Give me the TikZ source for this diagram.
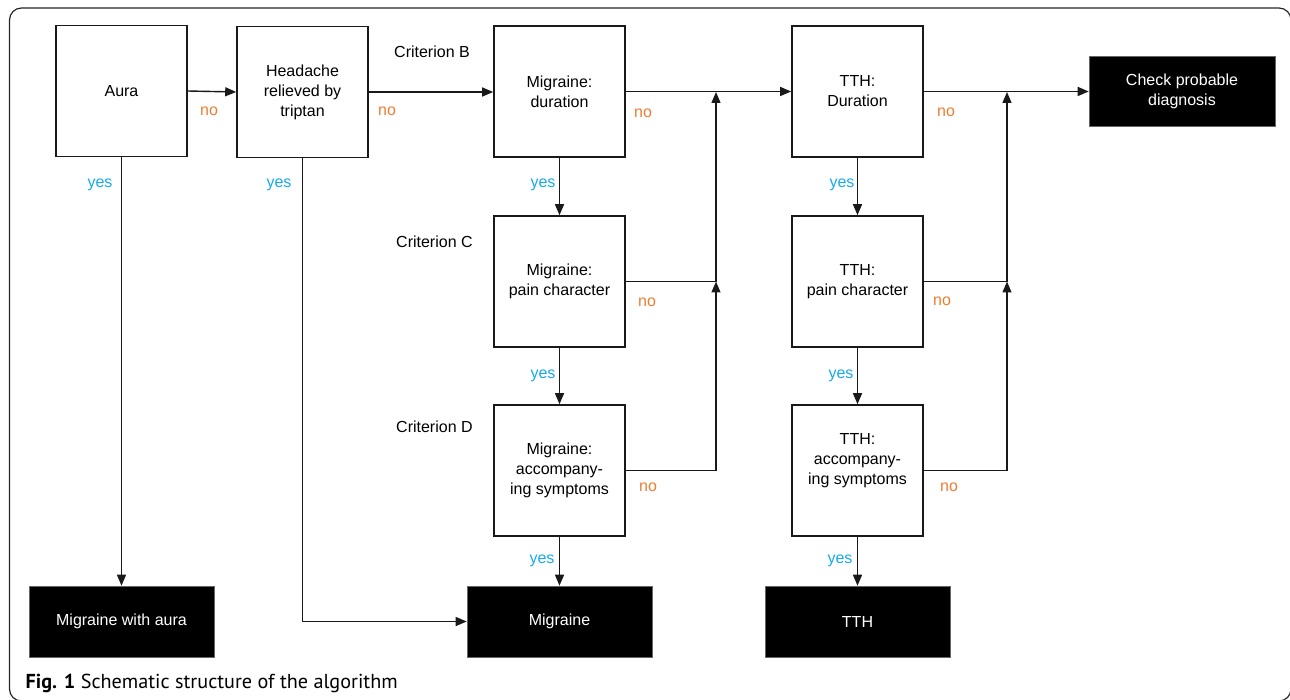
\documentclass[tikz,border=0pt]{standalone}
\usepackage{fontspec}
\setmainfont{Liberation Sans}
\newfontfamily\capfont{PT Sans}
\usetikzlibrary{arrows.meta}
\definecolor{yescol}{RGB}{22,170,236}
\definecolor{nocol}{RGB}{237,125,49}
\begin{document}
\begin{tikzpicture}[x=1pt,y=-1pt,
  every node/.style={font=\fontsize{16}{20}\selectfont, inner sep=0pt},
  qbox/.style={draw=black!90, line width=1.6pt, minimum width=131pt, minimum height=131pt, align=center, fill=white},
  endbox/.style={fill=black, draw=black!60, line width=0.6pt, text=white, minimum width=185pt, minimum height=71pt, align=center},
  conn/.style={line width=1.4pt, draw=black!90},
  arr/.style={conn, -{Triangle[length=11pt,width=9pt]}},
  yeslab/.style={text=yescol, anchor=base},
  nolab/.style={text=nocol, anchor=base},
  crit/.style={anchor=base west}
]
\useasboundingbox (0,0) rectangle (1290,700);
\clip (0,0) rectangle (1290,700);
\draw[line width=1.2pt, draw=black!85, rounded corners=12pt] (9.5,8) rectangle (1291,701);

% question boxes
\node[qbox] (aura) at (121.5,91) {Aura};
\node[qbox] (head) at (302.5,92) {Headache\\relieved by\\triptan};
\node[qbox] (mdur) at (559.5,91.5) {Migraine:\\duration};
\node[qbox] (mpain) at (559.5,281.5) {Migraine:\\pain character};
\node[qbox] (macc) at (559.5,470.5) {Migraine:\\accompany-\\ing symptoms};
\node[qbox] (tdur) at (857.5,91.5) {TTH:\\Duration};
\node[qbox] (tpain) at (857.5,281.5) {TTH:\\pain character};
\node[qbox] (tacc) at (857.5,470.5) {};
\node[align=center] (tacctext) at (857.5,461) {TTH:\\accompany-\\ing symptoms};

% end boxes
\node[endbox, minimum width=186pt, minimum height=70pt] (check) at (1182,91) {Check probable\\diagnosis};
\node[endbox] (mwa) at (121.5,621.5) {Migraine with aura};
\node[endbox] (mig) at (559.5,621.5) {Migraine};
\node[endbox] (tth) at (857.5,621.5) {TTH};

% criterion labels
\node[crit] (critB) at (394,58) {Criterion B};
\node[crit] (critC) at (396,248) {Criterion C};
\node[crit] (critD) at (396,432) {Criterion D};

% junctions
\coordinate (j1) at (716,92);
\coordinate (j1b) at (716,281.5);
\coordinate (j2) at (1007,92);
\coordinate (j2b) at (1007,281.5);

% connectors
\draw[arr] (aura.east) -- (head.west);
\draw[arr] (head.east) -- (head.east -| mdur.west);
\draw[arr] (mdur.east) -- (tdur.west);
\draw[arr] (tdur.east) -- (tdur.east -| check.west);
\draw[arr] (aura.south) -- (mwa.north);
\draw[arr] (head.south) |- (mig.west);
\draw[arr] (mdur.south) -- (mpain.north);
\draw[arr] (mpain.south) -- (macc.north);
\draw[arr] (macc.south) -- (mig.north);
\draw[arr] (tdur.south) -- (tpain.north);
\draw[arr] (tpain.south) -- (tacc.north);
\draw[arr] (tacc.south) -- (tth.north);
\draw[arr] (mpain.east) -- (j1b) -- (j1);
\draw[arr] (macc.east) -| (j1b);
\draw[arr] (tpain.east) -- (j2b) -- (j2);
\draw[arr] (tacc.east) -| (j2b);

% yes / no labels
\node[nolab] (n1) at (209,115.5) {no};
\node[nolab] (n2) at (387,115.5) {no};
\node[nolab] (n3) at (643,117.5) {no};
\node[nolab] (n4) at (946,116.5) {no};
\node[nolab] (n5) at (647,306.5) {no};
\node[nolab] (n6) at (942,305.5) {no};
\node[nolab] (n7) at (648,491.5) {no};
\node[nolab] (n8) at (949,491.5) {no};
\node[yeslab] (y1) at (100,187.5) {yes};
\node[yeslab] (y2) at (279,187.5) {yes};
\node[yeslab] (y3) at (543,187.5) {yes};
\node[yeslab] (y4) at (842,187.5) {yes};
\node[yeslab] (y5) at (543,378.5) {yes};
\node[yeslab] (y6) at (841,378.5) {yes};
\node[yeslab] (y7) at (542,563.5) {yes};
\node[yeslab] (y8) at (840,563.5) {yes};

% caption
\node[anchor=base west] (cap) at (25.5,688) {\resizebox{372pt}{!}{\capfont\textbf{Fig. 1} Schematic structure of the algorithm}};
\end{tikzpicture}
\end{document}
